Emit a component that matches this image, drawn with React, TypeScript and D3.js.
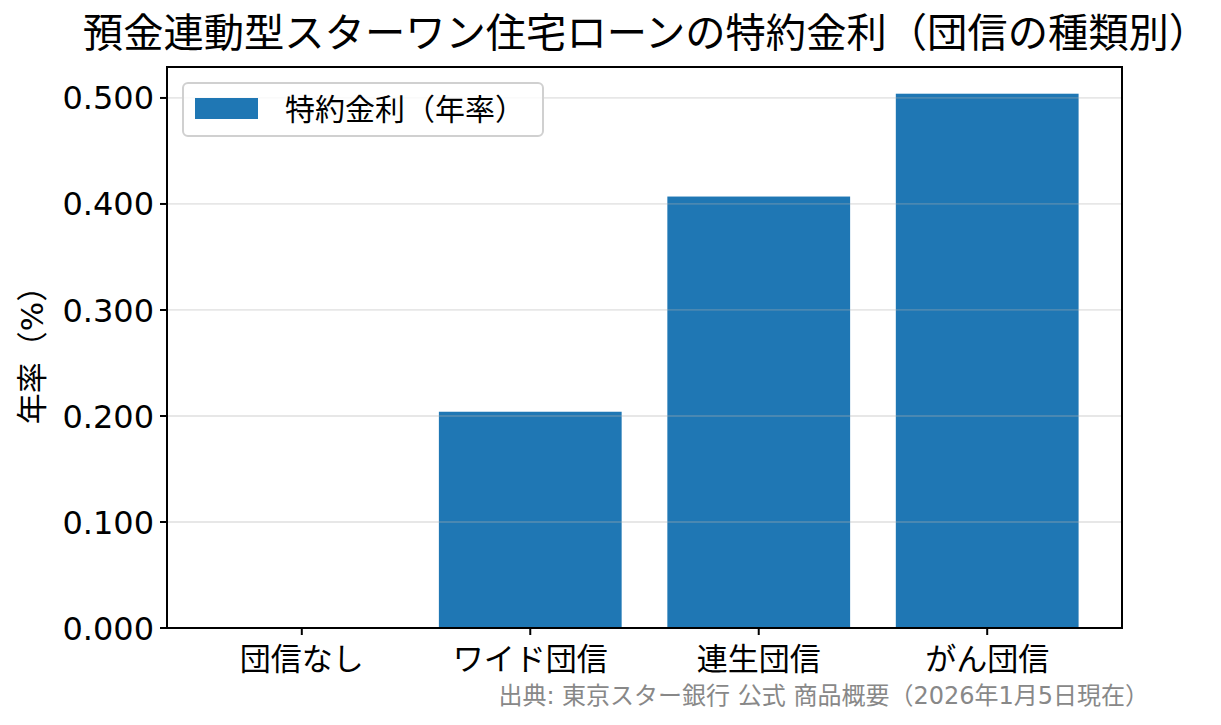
import { useEffect } from 'react'
import * as d3 from 'd3'

const W = 1221
const H = 725
const M = { t: 67, r: 99, b: 97, l: 167 }
const FONT = '"DejaVu Sans", "Noto Sans CJK JP", sans-serif'

const categories = ['団信なし', 'ワイド団信', '連生団信', 'がん団信']
const rates = [0, 0.204, 0.407, 0.504]
const yTicks = [0, 0.1, 0.2, 0.3, 0.4, 0.5]

const TITLE = '預金連動型スターワン住宅ローンの特約金利（団信の種類別）'
const LEGEND = '特約金利（年率）'
const Y_LABEL = '年率（%）'
const SOURCE = '出典: 東京スター銀行 公式 商品概要（2026年1月5日現在）'

export default function App() {
  useEffect(() => {
    document.body.style.margin = '0'
  }, [])

  const iw = W - M.l - M.r
  const ih = H - M.t - M.b
  const maxV = d3.max(rates) ?? 1

  // matplotlib-like limits: 5% side margins on bars, top margin 5%
  const x = d3.scaleLinear().domain([-0.59, categories.length - 1 + 0.59]).range([0, iw])
  const y = d3.scaleLinear().domain([0, maxV * 1.05]).range([ih, 0])
  const bw = x(0.8) - x(0)
  const fmt = d3.format('.3f')

  return (
    <svg width={W} height={H} style={{ display: 'block', background: '#fff', fontFamily: FONT }}>
      <text x={646} y={47} textAnchor="middle" fontSize={40.3} fill="#000">{TITLE}</text>

      <g transform={`translate(${M.l},${M.t})`}>
        {rates.map((v, i) => (
          <rect key={i} x={x(i) - bw / 2} y={y(v)} width={bw} height={ih - y(v)} fill="#1f77b4" />
        ))}

        {yTicks.map((t) => (
          <line key={t} x1={0} x2={iw} y1={y(t)} y2={y(t)} stroke="#b0b0b0" strokeOpacity={0.3} strokeWidth={1.8} />
        ))}

        <rect x={0} y={0} width={iw} height={ih} fill="none" stroke="#000" strokeWidth={2} />

        {yTicks.map((t) => (
          <g key={t} transform={`translate(0,${y(t)})`}>
            <line x1={-7} x2={0} stroke="#000" strokeWidth={2} />
            <text x={-13} dy="0.36em" textAnchor="end" fontSize={32} fill="#000">{fmt(t)}</text>
          </g>
        ))}

        {categories.map((c, i) => (
          <g key={c} transform={`translate(${x(i)},${ih})`}>
            <line y1={0} y2={7} stroke="#000" strokeWidth={2} />
            <text y={42} textAnchor="middle" fontSize={31} fill="#000">{c}</text>
          </g>
        ))}

        <text transform={`translate(${-135},${ih / 2}) rotate(-90)`} textAnchor="middle" dy="0.36em" fontSize={31} fill="#000">{Y_LABEL}</text>

        <g transform="translate(16,16)">
          <rect x={0} y={0} width={360} height={53} rx={5} fill="#fff" fillOpacity={0.8} stroke="#d0d0d0" strokeWidth={2} />
          <rect x={12} y={15} width={63} height={21} fill="#1f77b4" />
          <text x={102} y={26} dy="0.36em" fontSize={30} fill="#000">{LEGEND}</text>
        </g>
      </g>

      <text x={1149} y={704} textAnchor="end" fontSize={24} fill="#888">{SOURCE}</text>
    </svg>
  )
}
